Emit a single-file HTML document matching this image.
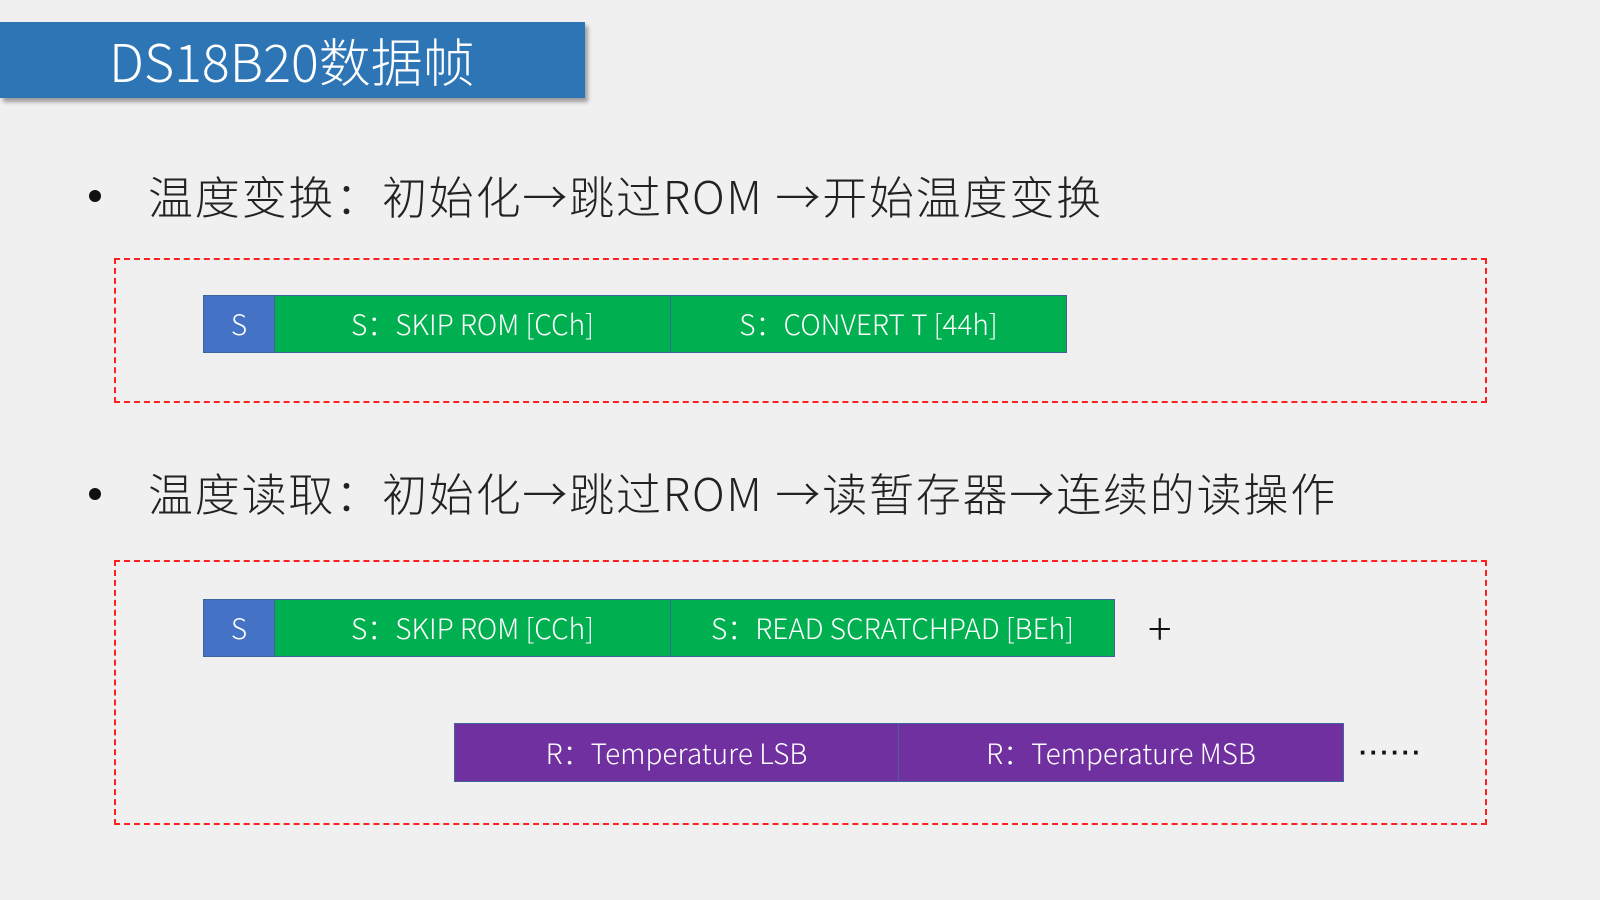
<!DOCTYPE html>
<html><head><meta charset="utf-8"><style>
body{margin:0;width:1600px;height:900px;background:#f0f0f0;position:relative;overflow:hidden;font-family:"Liberation Sans","Noto Sans CJK SC",sans-serif}
.a{position:absolute;box-sizing:border-box}
.title{left:0;top:22px;width:585px;height:76px;background:#2e75b6;box-shadow:3px 4px 4px rgba(0,0,0,.35);color:#fff;font-size:52px;line-height:76px;padding-left:109px;font-family:"Noto Sans CJK SC",sans-serif;font-weight:300}
.bul{font-size:45px;color:#222;left:148px;line-height:60px;white-space:nowrap;font-family:"Noto Sans CJK SC",sans-serif;font-weight:300;letter-spacing:1.8px}
.dot{width:12px;height:12px;border-radius:50%;background:#111}
.dash{border:2px dashed #ff2020}
.c{color:#fff;font-size:28px;display:flex;align-items:center;justify-content:center;border:1.5px solid #41659a;white-space:nowrap;font-family:"Noto Sans CJK SC",sans-serif;font-weight:300}
.b{background:#4472c4}.g{background:#00b050}.p{background:#7030a0}
</style></head><body>
<div class="a title">DS18B20数据帧</div>
<div class="a dot" style="left:89px;top:190px"></div>
<div class="a bul" style="top:165px">温度变换：初始化→跳过ROM →开始温度变换</div>
<div class="a dash" style="left:114px;top:258px;width:1373px;height:145px"></div>
<div class="a c b" style="left:203px;top:295px;width:72px;height:58px">S</div>
<div class="a c g" style="left:274px;top:295px;width:397px;height:58px">S：SKIP ROM [CCh]</div>
<div class="a c g" style="left:670px;top:295px;width:397px;height:58px">S：CONVERT T [44h]</div>
<div class="a dot" style="left:89px;top:488px"></div>
<div class="a bul" style="top:462px">温度读取：初始化→跳过ROM →读暂存器→连续的读操作</div>
<div class="a dash" style="left:114px;top:560px;width:1373px;height:265px"></div>
<div class="a c b" style="left:203px;top:599px;width:72px;height:58px">S</div>
<div class="a c g" style="left:274px;top:599px;width:397px;height:58px">S：SKIP ROM [CCh]</div>
<div class="a c g" style="left:670px;top:599px;width:445px;height:58px">S：READ SCRATCHPAD [BEh]</div>
<div class="a" style="left:1148px;top:594px;font-size:44px;color:#111;font-family:'Noto Sans CJK SC',sans-serif;font-weight:300">+</div>
<div class="a c p" style="left:454px;top:723px;width:445px;height:59px">R：Temperature LSB</div>
<div class="a c p" style="left:898px;top:723px;width:446px;height:59px">R：Temperature MSB</div>
<div class="a" style="left:1359px;top:737px;font-size:26px;color:#111;letter-spacing:2px;font-weight:bold">······</div>
</body></html>
